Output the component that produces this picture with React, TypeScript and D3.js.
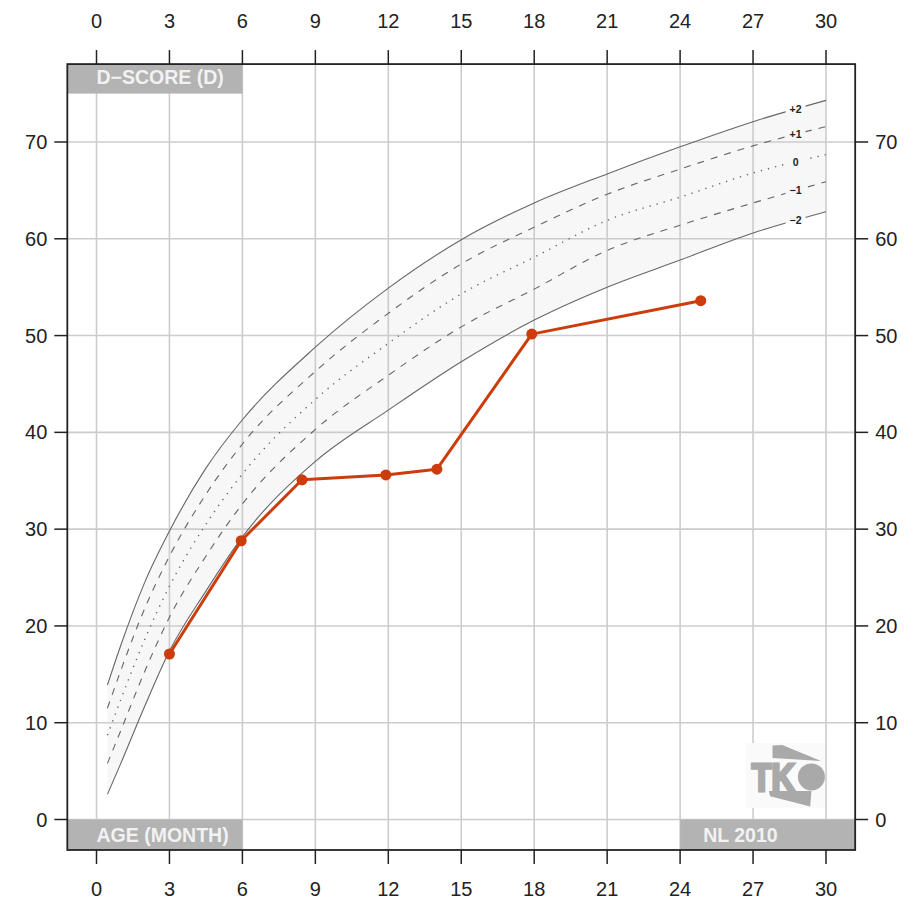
import React from "react";
import * as d3 from "d3";

// Reference curves (NL 2010 D-score)
const refAge = [0.45, 1, 2, 3, 4.5, 6, 9, 12, 15, 18, 21, 24, 27, 30];
const refP2 = [13.9, 18.0, 24.6, 29.8, 36.3, 41.3, 48.8, 54.9, 59.9, 63.7, 66.7, 69.5, 72.1, 74.3];
const refP1 = [11.5, 15.4, 21.9, 27.2, 33.6, 38.8, 46.3, 52.3, 57.4, 61.2, 64.6, 67.2, 69.6, 71.6];
const refP0 = [8.7, 12.4, 18.7, 24.1, 30.5, 35.7, 43.4, 49.2, 54.3, 58.1, 61.9, 64.3, 66.8, 68.7];
const refM1 = [5.8, 9.2, 15.4, 20.9, 27.2, 32.6, 40.3, 45.9, 50.9, 54.8, 58.8, 61.4, 63.7, 65.9];
const refM2 = [2.6, 5.8, 11.8, 17.4, 23.6, 29.2, 37.0, 42.3, 47.3, 51.6, 55.0, 57.8, 60.6, 62.8];
const refLabels = ["+2", "+1", "0", "\u22121", "\u22122"];

// Child measurements
const childAge = [3, 5.95, 8.45, 11.9, 14, 17.9, 24.85];
const childD = [17.1, 28.8, 35.1, 35.6, 36.2, 50.15, 53.6];

// Axis ticks
const xTicks = [0, 3, 6, 9, 12, 15, 18, 21, 24, 27, 30];
const yTicks = [0, 10, 20, 30, 40, 50, 60, 70];

const W = 917;
const H = 907;

export default function App() {
  const x = d3.scaleLinear().domain([0, 30]).range([96.5, 826]);
  const y = d3.scaleLinear().domain([0, 70]).range([819.5, 142]);
  const fx0 = x(-1.2), fx1 = x(31.2);
  const fy0 = y(78.05), fy1 = y(-3.15);

  const curves = [refP2, refP1, refP0, refM1, refM2];
  const styles = [
    { dash: undefined, w: 1.1 },
    { dash: "7,7", w: 1.1 },
    { dash: "1.3,6", w: 1.4 },
    { dash: "7,7", w: 1.1 },
    { dash: undefined, w: 1.1 },
  ];
  const mk = (vals: number[]) =>
    d3
      .line<number>()
      .x((_, i) => x(refAge[i]))
      .y((v) => y(v))
      .curve(d3.curveMonotoneX)(vals) as string;

  const areaPath = d3
    .area<number>()
    .x((_, i) => x(refAge[i]))
    .y0((_, i) => y(refM2[i]))
    .y1((v) => y(v))
    .curve(d3.curveMonotoneX)(refP2) as string;

  const childLine = d3
    .line<number>()
    .x((_, i) => x(childAge[i]))
    .y((v) => y(v))(childD) as string;

  const labelX = x(28.75);
  const labelVals = curves.map((c) => {
    const n = c.length;
    return c[n - 2] + (c[n - 1] - c[n - 2]) * (1.75 / 3);
  });

  const band = "#b3b3b3";
  const bandText = "#f2f2f2";
  const orange = "#cc3c0c";
  const logo = "#a9a9a9";
  const font = "'Liberation Sans', Arial, sans-serif";

  return (
    <svg
      width={W}
      height={H}
      style={{ position: "absolute", left: 0, top: 0, background: "#fff" }}
      fontFamily={font}
    >
      <defs>
        <mask id="lblmask">
          <rect x={0} y={0} width={W} height={H} fill="#fff" />
          {labelVals.map((v, i) => (
            <rect key={i} x={labelX - 10} y={y(v) - 8} width={20} height={14} fill="#000" />
          ))}
        </mask>
      </defs>

      {/* reference band fill */}
      <path d={areaPath} fill="#f7f7f7" stroke="none" />

      {/* grid */}
      <g stroke="#cccccc" strokeWidth={1.6}>
        {xTicks.map((t) => (
          <line key={"gx" + t} x1={x(t)} x2={x(t)} y1={fy0} y2={fy1} />
        ))}
        {yTicks.map((t) => (
          <line key={"gy" + t} x1={fx0} x2={fx1} y1={y(t)} y2={y(t)} />
        ))}
      </g>

      {/* reference curves */}
      <g mask="url(#lblmask)" fill="none" stroke="#666">
        {curves.map((c, i) => (
          <path key={i} d={mk(c)} strokeWidth={styles[i].w} strokeDasharray={styles[i].dash} />
        ))}
      </g>
      <g fontSize={10.5} fontWeight="bold" fill="#222" textAnchor="middle">
        {labelVals.map((v, i) => (
          <text key={i} x={labelX} y={y(v) + 3.5}>
            {refLabels[i]}
          </text>
        ))}
      </g>

      {/* logo */}
      <g>
        <rect x={x(26.7)} y={y(7.9)} width={x(29.95) - x(26.7)} height={y(1.2) - y(7.9)} fill="#fafafa" />
        <polygon
          points={`${x(27.8)},${y(7.65)} ${x(28.2)},${y(7.7)} ${x(29.8)},${y(6.05)} ${x(27.8)},${y(6.35)}`}
          fill={logo}
        />
        <text
          x={x(26.95)}
          y={y(2.95)}
          fontSize={38}
          fontWeight={900}
          fill={logo}
          stroke={logo}
          strokeWidth={3}
          textLength={43}
          lengthAdjust="spacingAndGlyphs"
        >
          TK
        </text>
        <circle cx={x(29.4)} cy={y(4.4)} r={13.5} fill={logo} />
        <polygon
          points={`${x(27.65)},${y(2.95)} ${x(29.4)},${y(2.95)} ${x(29.35)},${y(1.35)} ${x(27.7)},${y(2.4)}`}
          fill={logo}
        />
      </g>

      {/* child line */}
      <path d={childLine} fill="none" stroke={orange} strokeWidth={3} strokeLinejoin="round" />
      <g fill={orange}>
        {childAge.map((a, i) => (
          <circle key={i} cx={x(a)} cy={y(childD[i])} r={5.5} />
        ))}
      </g>

      {/* label bands */}
      <rect x={fx0} y={fy0} width={x(6) - fx0} height={y(75) - fy0} fill={band} />
      <text x={x(0)} y={y(75) - 9.5} fontSize={19.5} fontWeight="bold" fill={bandText}>
        D{"\u2212"}SCORE (D)
      </text>
      <rect x={fx0} y={y(0)} width={x(6) - fx0} height={fy1 - y(0)} fill={band} />
      <text x={x(0)} y={fy1 - 7.5} fontSize={19.5} fontWeight="bold" fill={bandText}>
        AGE (MONTH)
      </text>
      <rect x={x(24)} y={y(0)} width={fx1 - x(24)} height={fy1 - y(0)} fill={band} />
      <text x={x(24.95)} y={fy1 - 7.5} fontSize={19.5} fontWeight="bold" fill={bandText}>
        NL 2010
      </text>

      {/* frame */}
      <rect x={fx0} y={fy0} width={fx1 - fx0} height={fy1 - fy0} fill="none" stroke="#222" strokeWidth={1.8} />

      {/* ticks */}
      <g stroke="#222" strokeWidth={1.5}>
        {xTicks.map((t) => (
          <g key={"tx" + t}>
            <line x1={x(t)} x2={x(t)} y1={fy0} y2={fy0 - 14} />
            <line x1={x(t)} x2={x(t)} y1={fy1} y2={fy1 + 14} />
          </g>
        ))}
        {yTicks.map((t) => (
          <g key={"ty" + t}>
            <line x1={fx0} x2={fx0 - 13} y1={y(t)} y2={y(t)} />
            <line x1={fx1} x2={fx1 + 13} y1={y(t)} y2={y(t)} />
          </g>
        ))}
      </g>
      <g fontSize={20} fill="#222">
        {xTicks.map((t) => (
          <g key={"lx" + t} textAnchor="middle">
            <text x={x(t)} y={28}>{t}</text>
            <text x={x(t)} y={896}>{t}</text>
          </g>
        ))}
        {yTicks.map((t) => (
          <g key={"ly" + t}>
            <text x={fx0 - 20} y={y(t) + 7} textAnchor="end">{t}</text>
            <text x={fx1 + 20} y={y(t) + 7} textAnchor="start">{t}</text>
          </g>
        ))}
      </g>
    </svg>
  );
}
